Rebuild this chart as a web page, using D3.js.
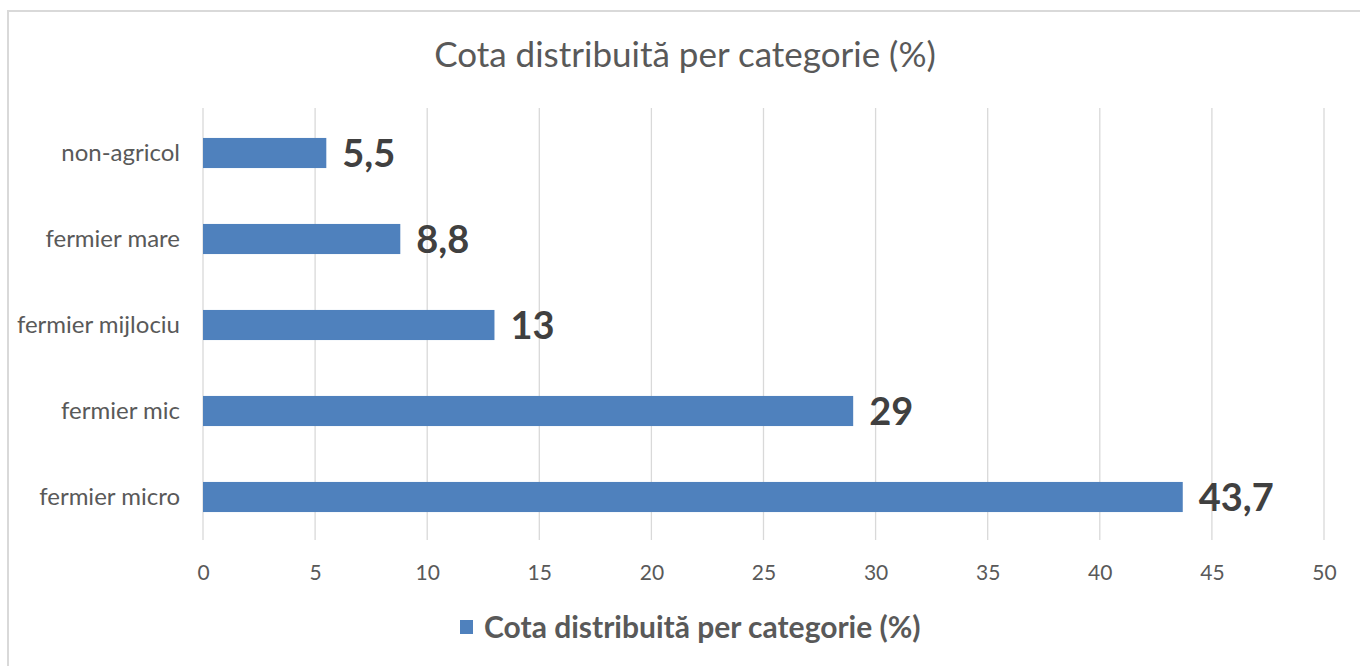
<!DOCTYPE html>
<html>
<head>
<meta charset="utf-8">
<script src="https://cdn.jsdelivr.net/npm/d3@7"></script>
<style>
  body { margin: 0; background: #fff; }
  text { font-family: Lato, "Open Sans", sans-serif; }
</style>
</head>
<body>
<div id="chart"></div>
<script>
// data
var categories = ["non-agricol", "fermier mare", "fermier mijlociu", "fermier mic", "fermier micro"];
var values = [5.5, 8.8, 13, 29, 43.7];
var labels = ["5,5", "8,8", "13", "29", "43,7"];
var xTicks = [0, 5, 10, 15, 20, 25, 30, 35, 40, 45, 50];
var seriesName = "Cota distribuită per categorie (%)";

var W = 1360, H = 666;
var barColor = "#4f81bd";

var svg = d3.select("#chart").append("svg")
    .attr("width", W)
    .attr("height", H);

// chart border
svg.append("rect")
    .attr("x", 8).attr("y", 11)
    .attr("width", W).attr("height", H)
    .attr("fill", "none")
    .attr("stroke", "#d9d9d9")
    .attr("stroke-width", 2);

// title
svg.append("text")
    .attr("x", 685).attr("y", 67)
    .attr("text-anchor", "middle")
    .attr("font-size", 35)
    .attr("fill", "#595959")
    .text(seriesName);

var x = d3.scaleLinear().domain([0, 50]).range([203, 1324]);
var y = d3.scaleBand().domain(categories).range([110, 540]).paddingInner(0.65).paddingOuter(0.325);

// gridlines
svg.append("g").selectAll("line")
    .data(xTicks)
    .enter().append("line")
    .attr("x1", function(d) { return x(d); })
    .attr("x2", function(d) { return x(d); })
    .attr("y1", 108).attr("y2", 540)
    .attr("stroke", "#d9d9d9")
    .attr("stroke-width", 1.3);

// x axis labels
var xAxis = d3.axisBottom(x).tickValues(xTicks).tickSize(0).tickPadding(0);
var gx = svg.append("g")
    .attr("transform", "translate(0,580)")
    .call(xAxis);
gx.select(".domain").remove();
gx.selectAll("text")
    .attr("dy", 0)
    .attr("font-size", 21)
    .attr("font-family", "Lato, sans-serif")
    .attr("fill", "#595959");

// y axis labels
var yAxis = d3.axisLeft(y).tickSize(0).tickPadding(0);
var gy = svg.append("g")
    .attr("transform", "translate(180,0)")
    .call(yAxis);
gy.select(".domain").remove();
gy.selectAll("text")
    .attr("font-size", 24)
    .attr("font-family", "Lato, sans-serif")
    .attr("fill", "#595959");

// bars
svg.append("g").selectAll("rect")
    .data(values)
    .enter().append("rect")
    .attr("x", x(0))
    .attr("y", function(d, i) { return y(categories[i]); })
    .attr("width", function(d) { return x(d) - x(0); })
    .attr("height", y.bandwidth())
    .attr("fill", barColor);

// data labels
svg.append("g").selectAll("text")
    .data(values)
    .enter().append("text")
    .attr("x", function(d) { return x(d) + 16; })
    .attr("y", function(d, i) { return y(categories[i]) + y.bandwidth() / 2; })
    .attr("dy", "0.36em")
    .attr("font-size", 38)
    .attr("font-weight", "bold")
    .attr("fill", "#404040")
    .text(function(d, i) { return labels[i]; });

// legend
var lg = svg.append("g");
lg.append("rect")
    .attr("x", 460).attr("y", 620)
    .attr("width", 13).attr("height", 14)
    .attr("fill", barColor);
lg.append("text")
    .attr("x", 484).attr("y", 638)
    .attr("font-size", 30)
    .attr("font-weight", "bold")
    .attr("fill", "#595959")
    .text(seriesName);
</script>
</body>
</html>
